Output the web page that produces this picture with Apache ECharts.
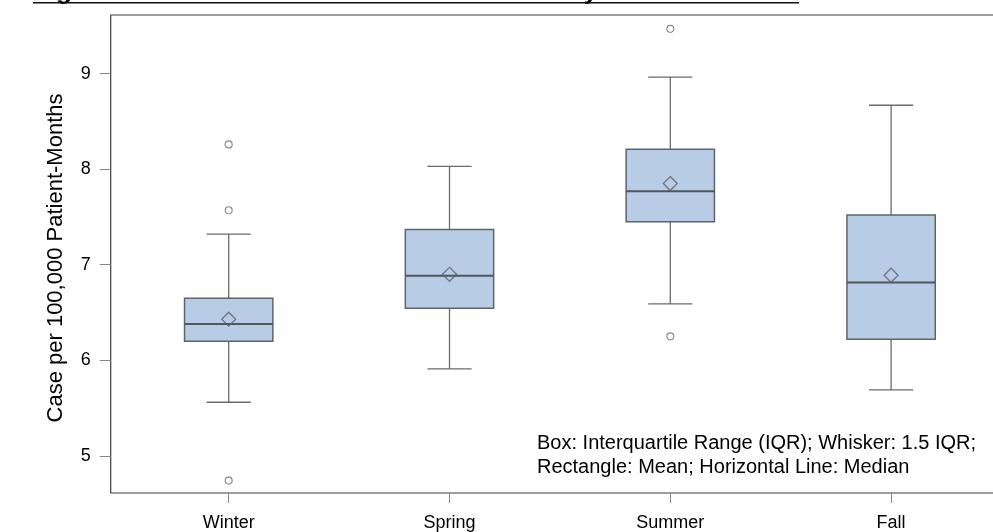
<!DOCTYPE html>
<html>
<head>
<meta charset="utf-8">
<script src="https://cdn.jsdelivr.net/npm/echarts@6/dist/echarts.min.js"></script>
<style>
html,body{margin:0;padding:0;background:#fff;}
#chart{width:993px;height:532px;}
</style>
</head>
<body>
<div id="chart"></div>
<script>
var categories = ['Winter', 'Spring', 'Summer', 'Fall'];
var whiskerLow  = [5.56, 5.91, 6.59, 5.69];
var q1          = [6.20, 6.545, 7.45, 6.22];
var median      = [6.38, 6.885, 7.77, 6.815];
var q3          = [6.65, 7.37, 8.21, 7.52];
var whiskerHigh = [7.32, 8.03, 8.965, 8.67];
var means       = [6.43, 6.90, 7.85, 6.89];
var outlierCat  = [0, 0, 0, 2, 2];
var outlierVal  = [8.26, 7.57, 4.74, 9.47, 6.25];
var yTicks      = [5, 6, 7, 8, 9];
var noteText = 'Box: Interquartile Range (IQR); Whisker: 1.5 IQR;\nRectangle: Mean; Horizontal Line: Median';
var figTitle = 'Figure 4: Observed Rates of CMV Infection by Season';

var FONT = '"Liberation Sans", Arial, Helvetica, sans-serif';

var boxData = categories.map(function (c, i) {
  return [i, whiskerLow[i], q1[i], median[i], q3[i], whiskerHigh[i]];
});
var meanData = categories.map(function (c, i) { return [i, means[i]]; });
var outlierData = outlierCat.map(function (c, i) { return [c, outlierVal[i]]; });

var chart = echarts.init(document.getElementById('chart'), null, {renderer: 'canvas'});
chart.setOption({
  animation: false,
  backgroundColor: '#fff',
  textStyle: {fontFamily: FONT},
  grid: [
    {left: 110.7, top: 15, width: 899.3, bottom: 39, show: true, borderColor: '#3c3c3c', borderWidth: 1.2,
      backgroundColor: 'transparent', outerBoundsMode: 'none', containLabel: false},
    {left: 118.3, top: 15, width: 883.2, bottom: 39, outerBoundsMode: 'none', containLabel: false}
  ],
  xAxis: [
    {
      gridIndex: 1, type: 'category', data: categories, boundaryGap: true,
      axisLine: {show: false},
      axisTick: {show: true, alignWithLabel: true, length: 10, lineStyle: {color: '#888', width: 1}},
      axisLabel: {fontSize: 18, color: '#000', margin: 21, fontFamily: FONT},
      splitLine: {show: false}
    },
    {gridIndex: 0, type: 'value', show: false, min: 0, max: 1}
  ],
  yAxis: [
    {
      gridIndex: 1, type: 'value', min: 4.61, max: 9.615, offset: 7.6,
      name: 'Case per 100,000 Patient-Months', nameLocation: 'middle', nameGap: 44,
      nameTextStyle: {fontSize: 22, color: '#000', fontFamily: FONT, padding: [0, 8, 0, 0]},
      axisLine: {show: false},
      axisTick: {show: true, length: 11, customValues: yTicks, lineStyle: {color: '#888', width: 1}},
      axisLabel: {fontSize: 18, color: '#000', margin: 20, customValues: yTicks, fontFamily: FONT,
        formatter: function (v) { return yTicks.indexOf(v) >= 0 ? String(v) : ''; }},
      splitLine: {show: false}
    },
    {gridIndex: 0, type: 'value', show: false, min: 0, max: 1}
  ],
  graphic: [
    {type: 'text', left: 537, top: 432.3, z: 10,
      style: {text: noteText, fontSize: 20, lineHeight: 23.3, fontFamily: FONT, fill: '#000'}},
    {type: 'text', x: 33, y: -8.5, z: 10,
      style: {text: figTitle, font: 'bold 26px "Liberation Sans"', fill: '#000', verticalAlign: 'middle', align: 'left'}},
    {type: 'line', z: 10, shape: {x1: 33, y1: 2.8, x2: 799, y2: 2.8}, style: {stroke: '#111', lineWidth: 1.6}}
  ],
  series: [
    {
      type: 'custom', xAxisIndex: 0, yAxisIndex: 0, z: 2,
      data: boxData,
      encode: {x: 0, y: [1, 2, 3, 4, 5]},
      renderItem: function (params, api) {
        var i = api.value(0);
        var pLow = api.coord([i, api.value(1)]);
        var pQ1 = api.coord([i, api.value(2)]);
        var pMed = api.coord([i, api.value(3)]);
        var pQ3 = api.coord([i, api.value(4)]);
        var pHigh = api.coord([i, api.value(5)]);
        var band = api.size([1, 0])[0];
        var bw = band * 0.4, cw = band * 0.2;
        var cx = pLow[0];
        var wStyle = {stroke: '#6a6a6a', lineWidth: 1.3};
        return {
          type: 'group',
          children: [
            {type: 'line', shape: {x1: cx, y1: pLow[1], x2: cx, y2: pHigh[1]}, style: wStyle},
            {type: 'line', shape: {x1: cx - cw / 2, y1: pLow[1], x2: cx + cw / 2, y2: pLow[1]}, style: wStyle},
            {type: 'line', shape: {x1: cx - cw / 2, y1: pHigh[1], x2: cx + cw / 2, y2: pHigh[1]}, style: wStyle},
            {type: 'rect', shape: {x: cx - bw / 2, y: pQ3[1], width: bw, height: pQ1[1] - pQ3[1]},
              style: {fill: '#B8CDE5', stroke: '#5e646c', lineWidth: 1.5}},
            {type: 'line', shape: {x1: cx - bw / 2, y1: pMed[1], x2: cx + bw / 2, y2: pMed[1]},
              style: {stroke: '#50565e', lineWidth: 2}}
          ]
        };
      }
    },
    {
      type: 'scatter', xAxisIndex: 0, yAxisIndex: 0, z: 3,
      data: meanData, symbol: 'diamond', symbolSize: [14, 14],
      itemStyle: {color: 'rgba(0,0,0,0)', borderColor: '#5a6068', borderWidth: 1.3}
    },
    {
      type: 'scatter', xAxisIndex: 0, yAxisIndex: 0, z: 3,
      data: outlierData, symbol: 'circle', symbolSize: 7,
      itemStyle: {color: 'rgba(0,0,0,0)', borderColor: '#6a6a6a', borderWidth: 1.1}
    }
  ]
});
</script>
</body>
</html>
